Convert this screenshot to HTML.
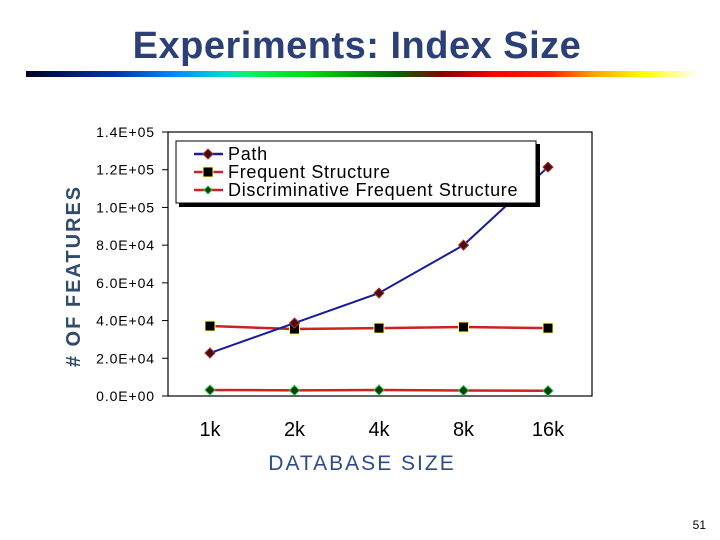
<!DOCTYPE html>
<html><head><meta charset="utf-8"><style>
body{margin:0;background:#fff;}
svg{display:block;font-family:"Liberation Sans",sans-serif;}
</style></head><body>
<svg width="720" height="540">
<defs>
<linearGradient id="rb" x1="0" x2="1" y1="0" y2="0">
<stop offset="0" stop-color="#000022"/><stop offset="0.13" stop-color="#0033aa"/>
<stop offset="0.22" stop-color="#0088ff"/><stop offset="0.3" stop-color="#00ddcc"/>
<stop offset="0.33" stop-color="#11ee66"/><stop offset="0.42" stop-color="#00dd11"/>
<stop offset="0.55" stop-color="#006600"/><stop offset="0.62" stop-color="#880000"/>
<stop offset="0.7" stop-color="#ff0000"/><stop offset="0.78" stop-color="#ff2200"/>
<stop offset="0.85" stop-color="#ffaa00"/><stop offset="0.92" stop-color="#ffff00"/>
<stop offset="1" stop-color="#ffffff"/>
</linearGradient>
</defs>
<text x="357" y="58" text-anchor="middle" font-size="38" font-weight="bold" fill="#2b3f78" letter-spacing="0.5">Experiments: Index Size</text>
<rect x="26" y="71" width="672" height="6" fill="url(#rb)"/>
<text transform="translate(80,276) rotate(-90)" text-anchor="middle" font-size="20" font-weight="bold" fill="#2f4b6e" letter-spacing="2"># OF FEATURES</text>
<text x="362" y="470" text-anchor="middle" font-size="21" fill="#2f4b8e" letter-spacing="2">DATABASE SIZE</text>
<text x="706" y="529" text-anchor="end" font-size="12" fill="#000">51</text>
<g id="chart"></g>
</svg>
<script>
const categories=["1k","2k","4k","8k","16k"];
const yTicks=[0,20000,40000,60000,80000,100000,120000,140000];
const yTickLabels=["0.0E+00","2.0E+04","4.0E+04","6.0E+04","8.0E+04","1.0E+05","1.2E+05","1.4E+05"];
const pathVals=[22800,38700,54600,80000,121400];
const freqVals=[37100,35500,36000,36600,36000];
const discVals=[3200,3000,3200,2900,2800];
const NS="http://www.w3.org/2000/svg";
const g=document.getElementById('chart');
const L=168,R=592,T=132,B=396;
const y=v=>B-(v/140000)*(B-T);
const x=i=>210+i*84.5;
function mk(tag,a,p){const e=document.createElementNS(NS,tag);for(const k in a)e.setAttribute(k,a[k]);(p||g).appendChild(e);return e;}
const frame=mk('rect',{x:L,y:T,width:R-L,height:B-T,fill:'none',stroke:'#000','stroke-width':1.2});


yTicks.forEach((v,i)=>{
 const t=mk('line',{x1:L-6,x2:L,y1:y(v),y2:y(v),stroke:'#000'});
 
 
 const lb=mk('text',{x:155,y:y(v)+5,'text-anchor':'end','font-size':14,'letter-spacing':0.9,fill:'#000'});
 lb.textContent=yTickLabels[i];
 
 
});
categories.forEach((c,i)=>{
 const lb=mk('text',{x:x(i),y:436,'text-anchor':'middle','font-size':20,fill:'#000'});
 lb.textContent=c;
 
 
});
function diamond(cx,cy,r,fill,stroke,name){
 const d=mk('polygon',{points:`${cx},${cy-r} ${cx+r},${cy} ${cx},${cy+r} ${cx-r},${cy}`,fill:fill,stroke:stroke,'stroke-width':1});
 
 
}
function square(cx,cy,r,name){
 const s=mk('rect',{x:cx-r,y:cy-r,width:2*r,height:2*r,fill:'#000',stroke:'#ffff66','stroke-width':1});
 
 
}
function series(vals,color,w,name,marker){
 const pl=mk('polyline',{points:vals.map((v,i)=>x(i)+','+y(v)).join(' '),fill:'none',stroke:color,'stroke-width':w});
 
 
 vals.forEach((v,i)=>marker(x(i),y(v),name+'-point'));
}
series(discVals,'#cc2222',2.5,'discriminative',(a,b,n)=>diamond(a,b,5,'#0a3a0a','#22cc44',n));
series(freqVals,'#cc2222',2.5,'frequent-structure',(a,b,n)=>square(a,b,5,n));
series(pathVals,'#1a1aa0',2,'path',(a,b,n)=>diamond(a,b,5,'#4a0a0a','#aa3333',n));
const lg=mk('g',{});


mk('rect',{x:179,y:144,width:361,height:63,fill:'#000'},lg);
mk('rect',{x:176,y:141,width:360,height:62,fill:'#fff',stroke:'#000','stroke-width':1},lg);
const ents=[["Path",'#1a1aa0'],["Frequent Structure",'#cc2222'],["Discriminative Frequent Structure",'#cc2222']];
ents.forEach((e,i)=>{
 const yy=154+i*18;
 const ln=mk('line',{x1:194,x2:223,y1:yy,y2:yy,stroke:e[1],'stroke-width':2.5},lg);
 
 
 if(i==0)diamond(208,yy,5,'#4a0a0a','#aa3333','legend-marker');
 if(i==1)square(208,yy,5,'legend-marker');
 if(i==2)diamond(208,yy,4,'#0a3a0a','#22cc44','legend-marker');
 const t=mk('text',{x:228,y:yy+6,'font-size':18,'letter-spacing':0.7,fill:'#000'},lg);
 t.textContent=e[0];
 
 
});
</script>
</body></html>
